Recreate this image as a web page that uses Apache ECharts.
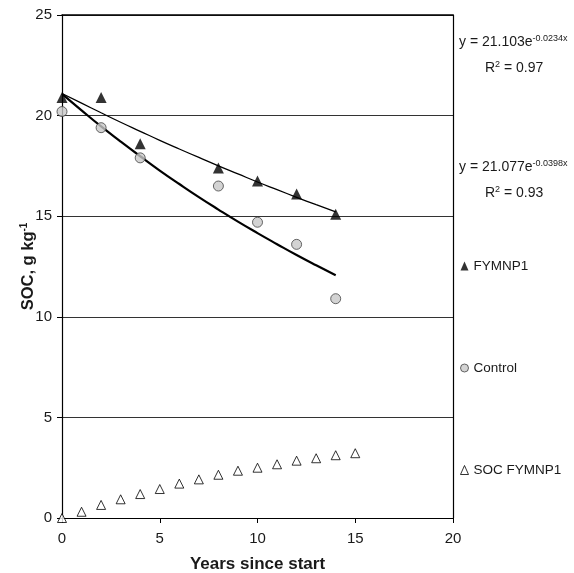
<!DOCTYPE html>
<html>
<head>
<meta charset="utf-8">
<script src="https://cdn.jsdelivr.net/npm/echarts@6/dist/echarts.min.js"></script>
<style>
  html, body { margin: 0; padding: 0; background: #fff; }
  #chart { width: 574px; height: 573px; }
</style>
</head>
<body>
<div id="chart"></div>
<script>
// measured points
const yearsMeasured = [0, 2, 4, 8, 10, 12, 14];
const fymnp1 = [20.9, 20.9, 18.6, 17.4, 16.75, 16.1, 15.1];
const control = [20.2, 19.4, 17.9, 16.5, 14.7, 13.6, 10.9];

// trend lines, read at each year
const trendYears = [0, 1, 2, 3, 4, 5, 6, 7, 8, 9, 10, 11, 12, 13, 14];
const fymnp1Trend = [21.10, 20.62, 20.14, 19.67, 19.22, 18.77, 18.34, 17.92, 17.50, 17.10, 16.70, 16.32, 15.94, 15.57, 15.21];
const controlTrend = [21.08, 20.26, 19.46, 18.71, 17.98, 17.27, 16.60, 15.95, 15.33, 14.73, 14.16, 13.61, 13.07, 12.56, 12.07];

// SOC FYMNP1
const socYears = [0, 1, 2, 3, 4, 5, 6, 7, 8, 9, 10, 11, 12, 13, 14, 15];
const socFymnp1 = [0, 0.31, 0.65, 0.93, 1.19, 1.44, 1.71, 1.92, 2.15, 2.35, 2.5, 2.67, 2.85, 2.97, 3.12, 3.22];

const xTicks = { min: 0, max: 20, interval: 5 };
const yTicks = { min: 0, max: 25, interval: 5 };

// fit equations shown on the right
const eqFymnp1 = ['y = 21.103e', '-0.0234x', '= 0.97'];
const eqControl = ['y = 21.077e', '-0.0398x', '= 0.93'];

function pairs(xs, ys) {
  return xs.map((x, i) => [x, ys[i]]);
}

const font = 'Liberation Sans, Arial, sans-serif';
const ink = '#1a1a1a';
const chart = echarts.init(document.getElementById('chart'));

const supRich = {
  b: { fontFamily: font, fontSize: 14, lineHeight: 16, fill: ink },
  s: { fontFamily: font, fontSize: 9, lineHeight: 9, fill: ink, verticalAlign: 'top' }
};

function eqGraphics(eq, top) {
  return [
    {
      type: 'text', left: 459, top: top,
      style: { text: '{b|' + eq[0] + '}{s|' + eq[1] + '}', rich: supRich }
    },
    {
      type: 'text', left: 485, top: top + 26,
      style: { text: '{b|R}{s|2}{b| ' + eq[2] + '}', rich: supRich }
    }
  ];
}

const option = {
  animation: false,
  backgroundColor: '#fff',
  textStyle: { fontFamily: font },
  grid: { left: 62, right: 121, top: 15, bottom: 55, outerBoundsMode: 'none', containLabel: false },
  legend: {
    orient: 'vertical',
    left: 455,
    top: 254,
    itemGap: 88,
    itemWidth: 8,
    itemHeight: 9,
    textStyle: { fontFamily: font, fontSize: 13.5, color: ink },
    data: [
      { name: 'FYMNP1' },
      { name: 'Control', itemStyle: { borderWidth: 1 } },
      { name: 'SOC FYMNP1', itemStyle: { borderWidth: 1 } }
    ]
  },
  xAxis: [{
    type: 'value',
    min: xTicks.min, max: xTicks.max, interval: xTicks.interval,
    name: 'Years since start',
    nameLocation: 'middle',
    nameGap: 38,
    nameTextStyle: { fontFamily: font, fontSize: 17, fontWeight: 'bold', color: ink },
    axisLine: { onZero: false, lineStyle: { color: '#000', width: 1.2 } },
    axisTick: { show: true, inside: false, length: 5, lineStyle: { color: '#000' } },
    axisLabel: { fontFamily: font, fontSize: 15, color: ink, margin: 13 },
    splitLine: { show: false }
  }, {
    type: 'value', position: 'top',
    min: xTicks.min, max: xTicks.max,
    axisLine: { show: true, onZero: false, lineStyle: { color: '#000', width: 1.5 } },
    axisTick: { show: false }, axisLabel: { show: false }, splitLine: { show: false }
  }],
  yAxis: [{
    type: 'value',
    min: yTicks.min, max: yTicks.max, interval: yTicks.interval,
    name: '{t|SOC, g kg}{s|-1}',
    nameLocation: 'middle',
    nameGap: 25,
    nameMoveOverlap: false,
    nameTextStyle: {
      rich: {
        t: { fontFamily: font, fontSize: 16.5, lineHeight: 18, fontWeight: 'bold', color: ink },
        s: { fontFamily: font, fontSize: 10, lineHeight: 10, fontWeight: 'bold', color: ink, verticalAlign: 'top' }
      }
    },
    axisLine: { show: true, onZero: false, lineStyle: { color: '#000', width: 1.2 } },
    axisTick: { show: true, inside: false, length: 5, lineStyle: { color: '#000' } },
    axisLabel: { fontFamily: font, fontSize: 15, color: ink, margin: 10 },
    splitLine: { show: true, lineStyle: { color: '#333', width: 1 } }
  }, {
    type: 'value', position: 'right',
    min: yTicks.min, max: yTicks.max,
    axisLine: { show: true, onZero: false, lineStyle: { color: '#000', width: 1.2 } },
    axisTick: { show: false }, axisLabel: { show: false }, splitLine: { show: false }
  }],
  graphic: eqGraphics(eqFymnp1, 34).concat(eqGraphics(eqControl, 159)),
  series: [
    {
      name: 'FYMNP1 trend',
      type: 'line',
      data: pairs(trendYears, fymnp1Trend),
      showSymbol: false, smooth: true,
      lineStyle: { color: '#000', width: 1.3 },
      z: 2
    },
    {
      name: 'Control trend',
      type: 'line',
      data: pairs(trendYears, controlTrend),
      showSymbol: false, smooth: true,
      lineStyle: { color: '#000', width: 2.2 },
      z: 2
    },
    {
      name: 'FYMNP1',
      type: 'scatter',
      data: pairs(yearsMeasured, fymnp1),
      symbol: 'triangle', symbolSize: 11,
      itemStyle: { color: '#000' },
      z: 4
    },
    {
      name: 'Control',
      type: 'scatter',
      data: pairs(yearsMeasured, control),
      symbol: 'circle', symbolSize: 10,
      itemStyle: { color: '#c8c8c8', borderColor: '#444', borderWidth: 1 },
      z: 3
    },
    {
      name: 'SOC FYMNP1',
      type: 'scatter',
      data: pairs(socYears, socFymnp1),
      symbol: 'triangle', symbolSize: 9,
      itemStyle: { color: '#fff', borderColor: '#000', borderWidth: 1 },
      z: 3
    }
  ]
};

chart.setOption(option);
</script>
</body>
</html>
